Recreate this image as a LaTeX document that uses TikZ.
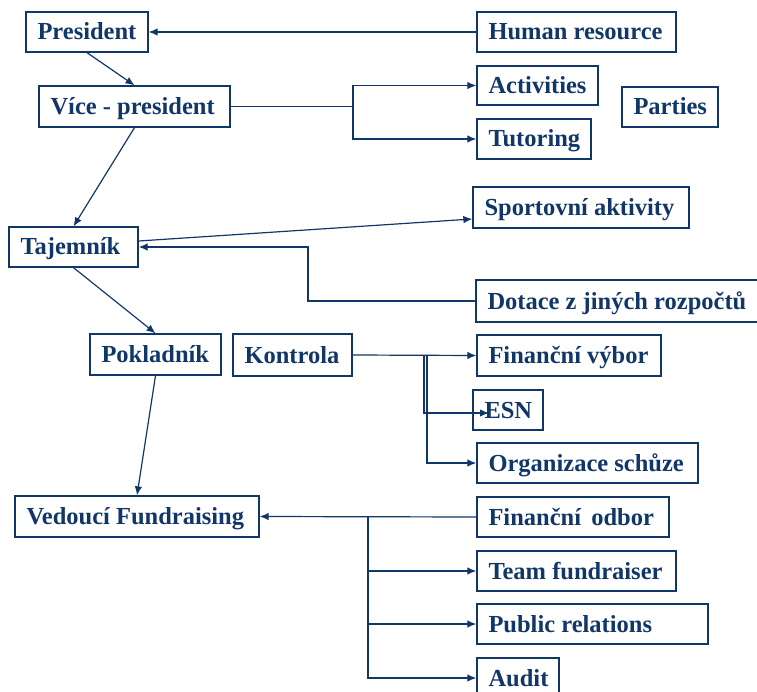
\documentclass[tikz,border=0pt]{standalone}
\usepackage{fontspec}
\setmainfont{Liberation Serif}
\usetikzlibrary{arrows.meta}
\definecolor{navy}{RGB}{16,55,104}
\begin{document}
\begin{tikzpicture}[>={Latex[length=9pt,width=7.5pt]},x=1pt,y=-1pt,
  box/.style={draw=navy,line width=1.3pt,text=navy,inner ysep=0pt,inner xsep=11.5pt,
    font=\bfseries\fontsize{24.5}{28}\selectfont,
    execute at begin node={\hbox to #1\bgroup},execute at end node={\hss\egroup},
    minimum height=40pt,text height=20pt,text depth=4pt},
  link/.style={draw=navy,line width=1.2pt}]
\useasboundingbox (0,0) rectangle (757,692);
\clip (0,0) rectangle (757,692);

\node[box=99pt] (pres) at (87,32) {President};
\node[box=176pt] (hr) at (576.5,32) {Human resource};
\node[box=168pt,minimum height=41pt] (vice) at (134.5,106.5) {Více - president};
\node[box=98pt,minimum height=39pt] (act) at (537.5,85.5) {Activities};
\node[box=91pt] (tut) at (534,139) {Tutoring};
\node[box=73pt] (part) at (670,107) {Parties};
\node[box=193pt,minimum height=41pt] (sport) at (581,207.5) {Sportovní aktivity};
\node[box=106pt] (taj) at (73.5,247) {Tajemník};
\node[box=261pt,minimum height=42pt] (dot) at (618,301) {Dotace z jiných rozpočtů};
\node[box=108pt,minimum height=41pt] (pok) at (155.5,354.5) {Pokladník};
\node[box=96pt,minimum height=42pt] (kon) at (292.5,355) {Kontrola};
\node[box=161pt,minimum height=41pt] (fv) at (569,355.5) {Finanční výbor};
\node[box=47pt] (esn) at (508,410) {ESN};
\node[box=198pt] (org) at (587.5,463) {Organizace schůze};
\node[box=221pt,minimum height=41pt] (vf) at (137,516.5) {Vedoucí Fundraising};
\node[box=169pt] (fo) at (573,517) {Finanční\, odbor};
\node[box=176pt] (team) at (576.5,571) {Team fundraiser};
\node[box=208pt] (pub) at (592.5,624) {Public relations};
\node[box=59pt] (aud) at (518,678) {Audit};

\coordinate (vj) at (353,106.5);
\coordinate (dk) at (308,247);
\coordinate (ka) at (424,355);
\coordinate (kb) at (427,355);
\coordinate (ke) at (489,413);
\coordinate (fj) at (368,517);

\draw[link,->] (hr.west) -- (pres.east);
\draw[link,->] (pres.south) -- (vice.north);
\draw[link,->] (vice.south) -- (taj.north);
\draw[link] (vice.east) -- (vj);
\draw[link,->] (vj) |- (act.west);
\draw[link,->] (vj) |- (tut.west);
\draw[link,->] ([yshift=6pt]taj.east) -- ([yshift=-11.5pt]sport.west);
\draw[link,->] (dot.west) -| (dk) -- (taj.east);
\draw[link,->] (taj.south) -- (pok.north);
\draw[link,->] (pok.south) -- (vf.north);
\draw[link,->] (kon.east) -- (fv.west);
\draw[link,->] (ka) |- (ke);
\draw[link,->] (kb) |- (org.west);
\draw[link,->] (fo.west) -- (vf.east);
\draw[link,->] (fj) |- (team.west);
\draw[link,->] (fj) |- (pub.west);
\draw[link,->] (fj) |- (aud.west);
\end{tikzpicture}
\end{document}
